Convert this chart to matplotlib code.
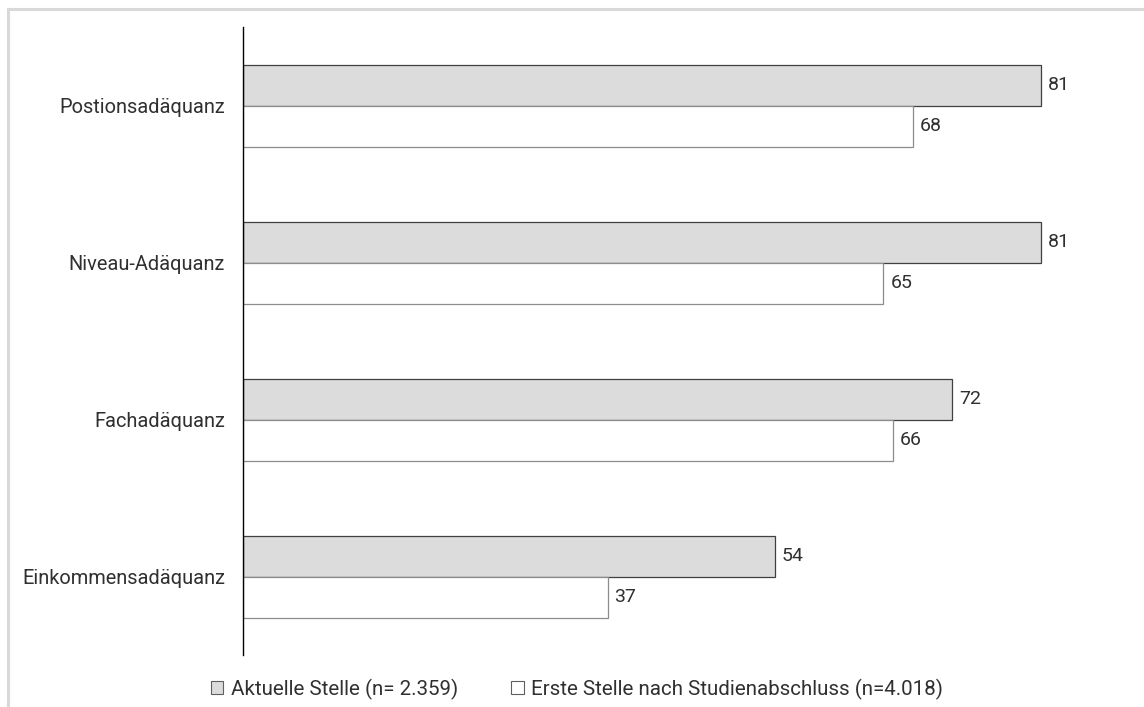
import matplotlib
matplotlib.use('Agg')
import matplotlib.pyplot as plt
from matplotlib.patches import Patch
from matplotlib.lines import Line2D
import numpy as np

categories = ['Postionsadäquanz', 'Niveau-Adäquanz', 'Fachadäquanz', 'Einkommensadäquanz']
aktuelle = [81, 81, 72, 54]
erste = [68, 65, 66, 37]
label_aktuelle = 'Aktuelle Stelle (n= 2.359)'
label_erste = 'Erste Stelle nach Studienabschluss (n=4.018)'

plt.rcParams['font.family'] = ['Roboto', 'DejaVu Sans']

TXT = '#303030'
W, H = 1144, 707
fig = plt.figure(figsize=(W / 100, H / 100), dpi=100)

# axes placed in pixel coords: left 243, right 1120, top 27, bottom 655
ax = fig.add_axes([243 / W, 1 - 655 / H, (1120 - 243) / W, (655 - 27) / H])

y = np.arange(len(categories))
h = 41 / 157
b1 = ax.barh(y - h / 2, aktuelle, height=h, color='#dcdcdc', edgecolor='#404040', linewidth=0.9)
b2 = ax.barh(y + h / 2, erste, height=h, color='white', edgecolor='#8c8c8c', linewidth=0.9)

ax.bar_label(b1, padding=5, fontsize=14, color=TXT)
ax.bar_label(b2, padding=5, fontsize=14, color=TXT)

ax.set_xlim(0, 877 / (798 / 81))
ax.set_ylim(3.5, -0.5)
ax.set_yticks(y)
ax.set_yticklabels(categories, fontsize=14.4, color=TXT)
ax.tick_params(axis='y', length=0, pad=13)
ax.set_xticks([])
for s in ['top', 'right', 'bottom']:
    ax.spines[s].set_visible(False)
ax.spines['left'].set_color('black')
ax.spines['left'].set_linewidth(1.0)

handles = [Patch(facecolor='#dcdcdc', edgecolor='#606060', linewidth=0.8),
           Patch(facecolor='white', edgecolor='#606060', linewidth=0.8)]
fig.legend(handles, [label_aktuelle, label_erste], loc='center',
           bbox_to_anchor=(577 / W, 1 - 689 / H), ncol=2, frameon=False,
           fontsize=14.8, handlelength=0.6, handleheight=0.6,
           handletextpad=0.35, columnspacing=2.6, labelcolor=TXT)

# light frame (top and left visible)
fig.add_artist(Line2D([8 / W, 1], [1 - 9 / H, 1 - 9 / H], transform=fig.transFigure,
                      color='#d9d9d9', linewidth=2.2))
fig.add_artist(Line2D([8 / W, 8 / W], [0, 1 - 9 / H], transform=fig.transFigure,
                      color='#d9d9d9', linewidth=2.2))

fig.savefig('out.png', dpi=100)
